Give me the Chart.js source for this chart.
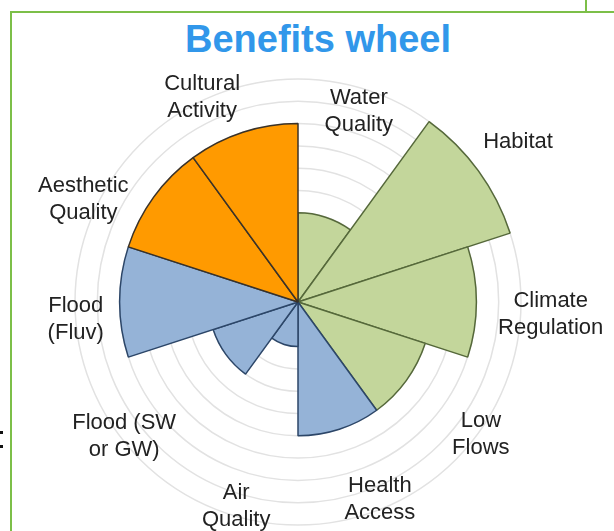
<!DOCTYPE html>
<html><head><meta charset="utf-8">
<script src="https://cdn.jsdelivr.net/npm/chart.js@4/dist/chart.umd.min.js"></script>
<style>
html,body{margin:0;padding:0;background:#fff;width:614px;height:531px;overflow:hidden;position:relative;font-family:"Liberation Sans",Arial,sans-serif;}
#frame{position:absolute;left:10px;top:11px;width:700px;height:600px;border:2px solid #7cbf48;box-sizing:border-box;}
#tick{position:absolute;left:585px;top:0;width:2px;height:12px;background:#7cbf48;}
#title{position:absolute;left:0;width:636px;top:18px;text-align:center;font-weight:bold;font-size:38px;color:#3197ea;white-space:nowrap;}
.dot{position:absolute;left:0;width:3px;height:3px;background:#111;}
canvas{position:absolute;left:0;top:0;}
</style></head>
<body>
<div id="frame"></div><div id="tick"></div>
<div class="dot" style="top:431px"></div><div class="dot" style="top:445px"></div>
<div id="title">Benefits wheel</div>
<canvas id="c" width="614" height="531"></canvas>
<script>
// ---- data ----
const categories = [
  ['Water', 'Quality'],
  ['Habitat'],
  ['Climate', 'Regulation'],
  ['Low', 'Flows'],
  ['Health', 'Access'],
  ['Air', 'Quality'],
  ['Flood (SW', 'or GW)'],
  ['Flood', '(Fluv)'],
  ['Aesthetic', 'Quality'],
  ['Cultural', 'Activity']
];
const scores = [4, 10, 8, 6, 6, 2, 4, 8, 8, 8];
const groups = ['env', 'env', 'env', 'env', 'flood', 'flood', 'flood', 'flood', 'social', 'social'];
const scaleMax = 10;

// ---- styles ----
const groupFill = { env: '#c3d69b', flood: '#95b3d7', social: '#ff9a00' };
const groupBorder = { env: '#55683a', flood: '#2c4668', social: '#3a3228' };
// label placement: distance from centre (px) and angle tweak (deg) from segment middle
const labelDist = [200, 272, 253, 226, 214, 214, 220, 223, 238, 226];
const labelAngleTweak = [-0.3, 0, 2.9, 0, -4.5, -1.2, -1.8, -4.6, -10.4, -7.1];

const labelPlugin = {
  id: 'wheelLabels',
  afterDraw(chart) {
    const s = chart.scales.r;
    const ctx = chart.ctx;
    const n = categories.length;
    ctx.save();
    ctx.font = '22px "Liberation Sans", Arial, sans-serif';
    ctx.fillStyle = '#222222';
    ctx.textAlign = 'center';
    ctx.textBaseline = 'middle';
    categories.forEach((lines, i) => {
      const a = s.getIndexAngle(i) + Math.PI / n + labelAngleTweak[i] * Math.PI / 180 - Math.PI / 2;
      const x = s.xCenter + Math.cos(a) * labelDist[i];
      const y = s.yCenter + Math.sin(a) * labelDist[i];
      lines.forEach((t, j) => {
        ctx.fillText(t, x, y + (j - (lines.length - 1) / 2) * 27);
      });
    });
    ctx.restore();
  }
};

new Chart(document.getElementById('c'), {
  type: 'polarArea',
  data: {
    labels: categories,
    datasets: [{
      data: scores,
      backgroundColor: groups.map(g => groupFill[g]),
      borderColor: groups.map(g => groupBorder[g]),
      borderWidth: 1.5
    }]
  },
  options: {
    responsive: false,
    animation: false,
    layout: { padding: { left: 75, top: 79, right: 93, bottom: 6 } },
    plugins: { legend: { display: false }, tooltip: { enabled: false } },
    scales: {
      r: {
        min: 0,
        max: scaleMax,
        ticks: { display: false, stepSize: 1 },
        grid: { color: '#e2e2e2', lineWidth: 1.5 },
        angleLines: { display: false },
        pointLabels: { display: false }
      }
    }
  },
  plugins: [labelPlugin]
});
</script>
</body></html>
